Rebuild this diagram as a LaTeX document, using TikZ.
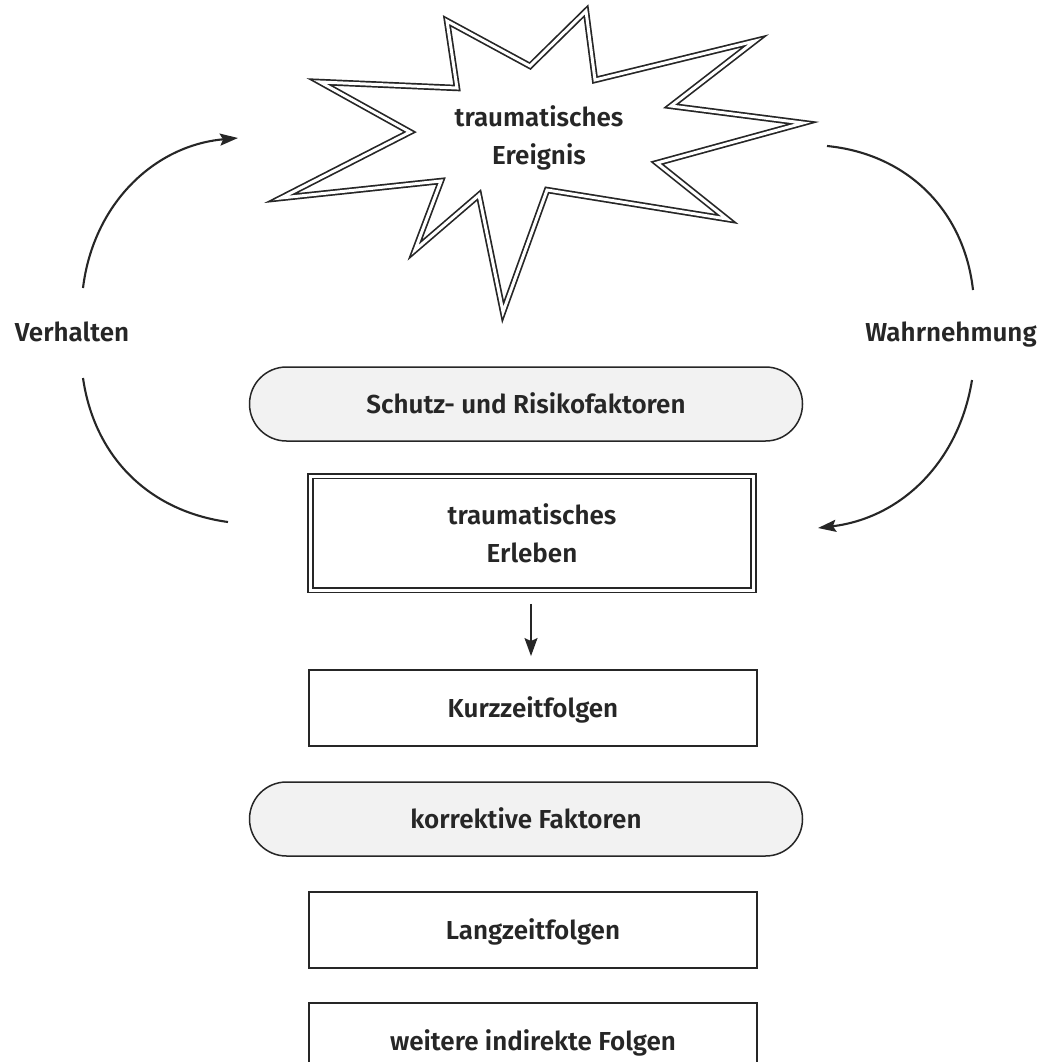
\documentclass[tikz,border=0pt]{standalone}
\usepackage{fontspec}
\setmainfont{Fira Sans}[UprightFont={* SemiBold}]
\usetikzlibrary{arrows.meta}
\definecolor{ink}{HTML}{262626}
\definecolor{screen}{HTML}{F2F2F2}
\begin{document}
\begin{tikzpicture}[x=1pt,y=-1pt,
  every node/.style={font=\fontsize{26}{38}\selectfont, text=ink},
  oneline/.style={text height=18pt, text depth=0pt},
  frame/.style={draw=ink, line width=1.9pt, minimum width=448pt, minimum height=76pt, oneline},
  pill/.style={draw=ink, line width=1.5pt, fill=screen, minimum width=553pt, minimum height=74pt, rounded corners=37pt, oneline},
  twin/.style={draw=ink, double=white, double distance=3pt, line width=1.7pt},
  cyc/.style={draw=ink, line width=2.1pt},
  tip/.style={-{Stealth[length=18pt,width=12pt,inset=3pt]}},
]
\clip (0,0) rectangle (1043,1062);
\fill[white] (0,0) rectangle (1043,1062);

% the burst around the triggering event
\draw[twin, line join=miter]
  (447,21) -- (530,66) -- (586,11) -- (595,80) -- (755,41) -- (671,106)
  -- (803,123) -- (657,163) -- (727,219) -- (547,190) -- (503,312)
  -- (479,195) -- (415,250) -- (441,181) -- (281,198) -- (410,132)
  -- (320,82) -- (457,88) -- cycle;
\node[align=center] (event) at (539,138) {traumatisches\\Ereignis};

% chain of boxes
\node[pill] (schutz) at (526,404) {Schutz- und Risikofaktoren};
\node[twin, align=center, minimum width=443pt, minimum height=114pt] (erleben) at (532,533) {traumatisches\\Erleben};
\node[frame] (kurz) at (533,708) {Kurzzeitfolgen};
\node[pill] (korr) at (526,819) {korrektive Faktoren};
\node[frame] (lang) at (533,930) {Langzeitfolgen};
\node[frame] (weitere) at (533,1041) {weitere indirekte Folgen};

\draw[ink, line width=1.4pt, -{Stealth[length=18pt,width=13pt,inset=3pt]}, shorten <=13pt, shorten >=13pt]
  (erleben.south -| 531,0) -- (kurz.north -| 531,0);

% side labels
\node[anchor=base] (verhalten) at (72,341) {Verhalten};
\node[anchor=base] (wahrnehmung) at (951,341) {Wahrnehmung};

% feedback arcs
\coordinate (vl1) at (83,288);
\coordinate (vl2) at (238,138);
\coordinate (vl3) at (83,378);
\coordinate (vl4) at (228,522);
\coordinate (wr1) at (827,146);
\coordinate (wr2) at (973,290);
\coordinate (wr3) at (972,380);
\coordinate (wr4) at (818,528);
\draw[cyc, tip] (vl1) to[bend left=39] (vl2);
\draw[cyc] (vl3) to[bend right=37] (vl4);
\draw[cyc] (wr1) to[bend left=39] (wr2);
\draw[cyc, tip] (wr3) to[bend left=37] (wr4);
\end{tikzpicture}
\end{document}
